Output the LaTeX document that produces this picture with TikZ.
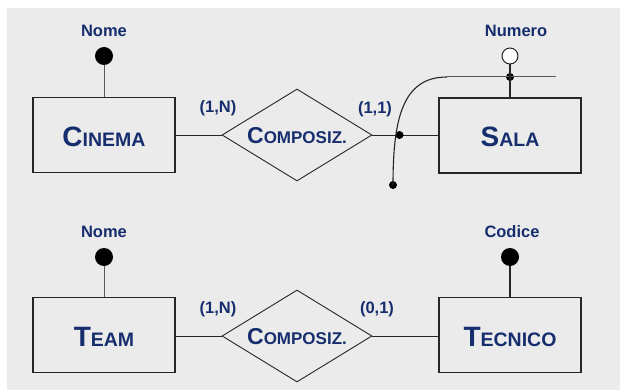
\documentclass[tikz,border=0pt]{standalone}
\usepackage{fontspec}
\setmainfont{Liberation Sans}
\usetikzlibrary{shapes.geometric}
\definecolor{bgray}{RGB}{235,235,235}
\definecolor{navy}{RGB}{22,46,110}
\definecolor{lgray}{RGB}{90,90,90}
\newcommand{\ent}[2]{{\fontsize{28}{28}\selectfont #1}{\fontsize{19.5}{19.5}\selectfont #2}}
\newcommand{\rel}[2]{{\fontsize{23}{23}\selectfont #1}{\fontsize{17}{17}\selectfont #2}}
\tikzset{
  entity/.style={draw=black!85, line width=1.2pt, fill=bgray, minimum width=142pt, minimum height=75pt, inner sep=0pt, text=navy, font=\bfseries},
  relation/.style={draw=black!85, line width=0.9pt, diamond, aspect=1.63, minimum width=150pt, minimum height=92pt, inner sep=0pt, fill=bgray, text=navy, font=\bfseries},
  lbl/.style={text=navy, font=\fontsize{16.5}{16.5}\selectfont\bfseries, inner sep=0pt},
  kdot/.style={circle, fill=black, inner sep=0pt, minimum size=18pt},
  odot/.style={circle, draw=black!85, line width=1pt, fill=white, inner sep=0pt, minimum size=16pt},
  sdot/.style={circle, fill=black, inner sep=0pt, minimum size=8pt},
  link/.style={draw=black!85, line width=0.9pt},
  alink/.style={draw=lgray, line width=1pt},
  etext/.style={text=navy, font=\bfseries, inner sep=0pt}
}
\begin{document}
\begin{tikzpicture}[x=1pt,y=-1pt]
\useasboundingbox (0,0) rectangle (620,390);
\fill[bgray] (7,8) rectangle (620,390);
% top row
\node[entity] (cinema) at (104,135) {};
\node[etext] (cinemat) at (104,137) {\ent{C}{INEMA}};
\node[relation] (comp1) at (297,135) {};
\node[etext] (comp1t) at (297,136) {\rel{C}{OMPOSIZ.}};
\node[entity] (sala) at (510,135.5) {};
\node[etext] (salat) at (510,137) {\ent{S}{ALA}};
\draw[link] (cinema.east) -- (comp1.west);
\draw[link] (comp1.east) -- (sala.west |- comp1.east);
\node[lbl] (c1a) at (218,108) {(1,N)};
\node[lbl] (c1b) at (375,109) {(1,1)};
\node[lbl] (nome1) at (104,31) {Nome};
\node[kdot] (nd1) at (104,56) {};
\draw[alink] (nd1) -- (cinema.north);
\node[lbl] (numero) at (516,31) {Numero};
\node[odot] (ncirc) at (510,56) {};
\coordinate (hl) at (447,77);
\coordinate (hr) at (556,77);
\node[sdot] (kd) at (510,77) {};
\draw[alink] (hl) -- (hr);
\draw[link, line width=1.2pt] (ncirc) -- (sala.north);
\node[sdot] (xd) at (399.5,135) {};
\node[sdot] (ed) at (393,185) {};
\draw[link, line width=1.1pt] (hl) .. controls (402,77) and (393,120) .. (ed.center);
% bottom row
\node[entity] (team) at (104,335) {};
\node[etext] (teamt) at (104,337) {\ent{T}{EAM}};
\node[relation] (comp2) at (297,336) {};
\node[etext] (comp2t) at (297,337) {\rel{C}{OMPOSIZ.}};
\node[entity] (tecnico) at (510,335) {};
\node[etext] (tecnicot) at (510,337) {\ent{T}{ECNICO}};
\draw[link] (team.east |- comp2.west) -- (comp2.west);
\draw[link] (comp2.east) -- (tecnico.west |- comp2.east);
\node[lbl] (c2a) at (218,309) {(1,N)};
\node[lbl] (c2b) at (377,309) {(0,1)};
\node[lbl] (nome2) at (104,232) {Nome};
\node[kdot] (nd2) at (104,257) {};
\draw[alink] (nd2) -- (team.north);
\node[lbl] (codice) at (512,232) {Codice};
\node[kdot] (cd) at (510,257) {};
\draw[link, line width=1.3pt] (cd) -- (tecnico.north);
\end{tikzpicture}
\end{document}
